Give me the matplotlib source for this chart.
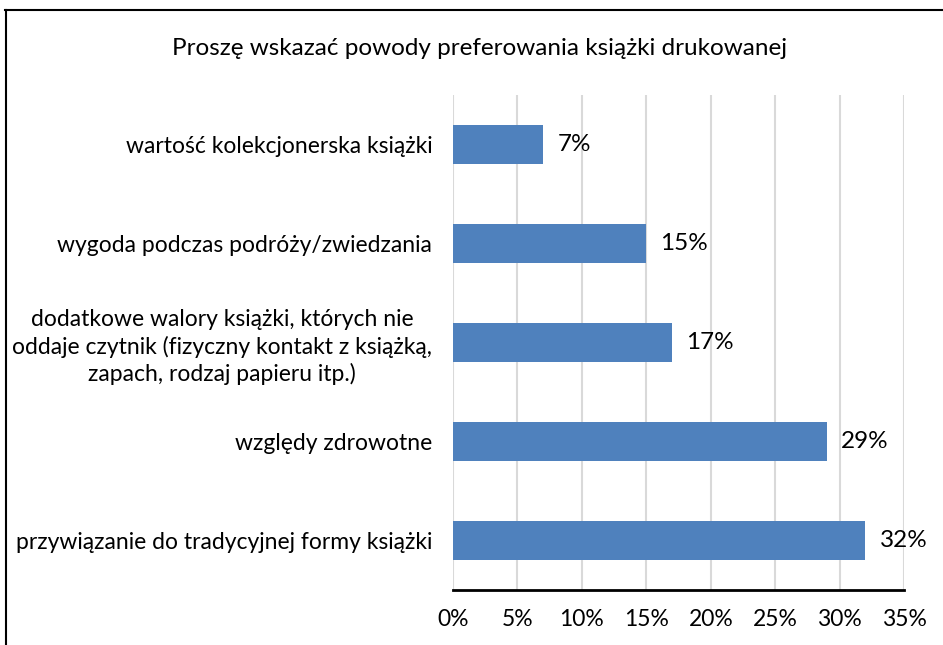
import matplotlib.pyplot as plt
from matplotlib.lines import Line2D

plt.rcParams['font.family'] = ['Lato', 'DejaVu Sans']

categories = [
    'wartość kolekcjonerska książki',
    'wygoda podczas podróży/zwiedzania',
    'dodatkowe walory książki, których nie\noddaje czytnik (fizyczny kontakt z książką,\nzapach, rodzaj papieru itp.)',
    'względy zdrowotne',
    'przywiązanie do tradycyjnej formy książki',
]
values = [7, 15, 17, 29, 32]
xticks = [0, 5, 10, 15, 20, 25, 30, 35]
title = 'Proszę wskazać powody preferowania książki drukowanej'

fig = plt.figure(figsize=(9.43, 6.45), dpi=100)
ax = fig.add_axes([0.4804, 0.0853, 0.4783, 0.7674])

pos = list(range(len(categories)))
ax.barh(pos, values, height=0.4, color='#4F81BD', zorder=3)
ax.set_ylim(len(categories) - 0.5, -0.5)
ax.set_xlim(0, 35)

ax.set_xticks(xticks)
ax.set_xticklabels([f'{t}%' for t in xticks], fontsize=16.5)
ax.set_yticks(pos)
ax.set_yticklabels(categories, fontsize=16.5, multialignment='center',
                   linespacing=1.3)
ax.tick_params(axis='both', length=0)
ax.tick_params(axis='x', pad=14)
ax.tick_params(axis='y', pad=15)

ax.grid(axis='x', color='#D9D9D9', linewidth=1.5, zorder=0)
for s in ['top', 'right', 'left']:
    ax.spines[s].set_visible(False)
ax.spines['bottom'].set_linewidth(2)
ax.spines['bottom'].set_color('black')

for p, v in zip(pos, values):
    ax.text(v + 1.1, p, f'{v}%', va='center', ha='left', fontsize=17.5)

fig.text(0.509, 0.925, title, ha='center', va='center', fontsize=17.5)

# chart frame (cut at right and bottom edge)
fig.add_artist(Line2D([0.005, 1.0], [0.984, 0.984], color='black', linewidth=1.5,
                      transform=fig.transFigure))
fig.add_artist(Line2D([0.006, 0.006], [0.0, 0.984], color='black', linewidth=1.5,
                      transform=fig.transFigure))

fig.savefig('out.png', dpi=100)
